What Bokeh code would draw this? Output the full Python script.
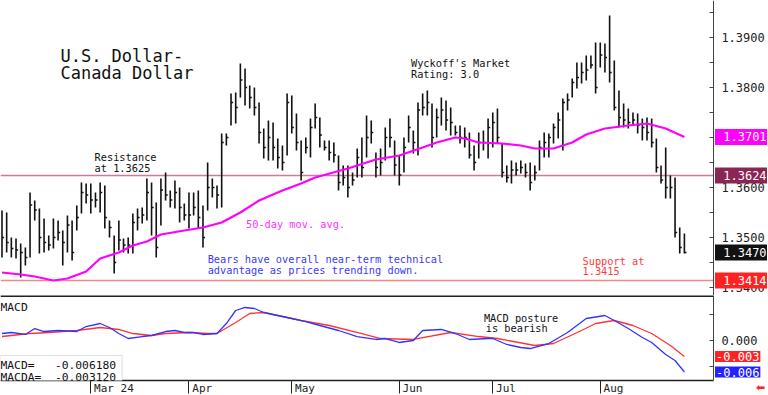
from bokeh.plotting import figure
from bokeh.models import (Range1d, FixedTicker, Label, BoxAnnotation,
                          PrintfTickFormatter, ColumnDataSource)
from bokeh.layouts import column
from bokeh.transform import dodge
from bokeh.embed import file_html
from bokeh.resources import INLINE

# ---------------- data ----------------
highs = [1.3554,1.3550,1.3500,1.3498,1.3488,1.3480,1.3590,1.3574,1.3558,1.3538,
         1.3504,1.3538,1.3534,1.3514,1.3544,1.3534,1.3564,1.3610,1.3608,1.3608,
         1.3590,1.3610,1.3604,1.3534,1.3504,1.3534,1.3498,1.3500,1.3548,1.3558,
         1.3560,1.3618,1.3610,1.3570,1.3618,1.3630,1.3594,1.3614,1.3600,1.3568,
         1.3590,1.3590,1.3594,1.3564,1.3650,1.3618,1.3604,1.3708,1.3708,1.3788,
         1.3790,1.3848,1.3838,1.3804,1.3800,1.3770,1.3718,1.3734,1.3730,1.3698,
         1.3684,1.3788,1.3784,1.3748,1.3694,1.3700,1.3738,1.3768,1.3740,1.3694,
         1.3694,1.3690,1.3664,1.3644,1.3644,1.3630,1.3678,1.3700,1.3744,1.3734,
         1.3670,1.3678,1.3720,1.3738,1.3694,1.3664,1.3700,1.3744,1.3714,1.3770,
         1.3788,1.3794,1.3768,1.3758,1.3780,1.3774,1.3760,1.3724,1.3724,1.3720,
         1.3710,1.3684,1.3710,1.3714,1.3738,1.3750,1.3758,1.3688,1.3644,1.3654,
         1.3650,1.3654,1.3648,1.3650,1.3644,1.3694,1.3710,1.3708,1.3728,1.3750,
         1.3778,1.3788,1.3818,1.3850,1.3850,1.3864,1.3864,1.3890,1.3890,1.3888,
         1.3944,1.3854,1.3794,1.3768,1.3758,1.3750,1.3748,1.3738,1.3740,1.3738,
         1.3698,1.3644,1.3680,1.3624,1.3620,1.3520,1.3508]
lows = [1.3460,1.3470,1.3460,1.3458,1.3420,1.3444,1.3460,1.3534,1.3468,1.3470,
        1.3474,1.3478,1.3494,1.3444,1.3470,1.3454,1.3514,1.3548,1.3568,1.3548,
        1.3560,1.3550,1.3518,1.3500,1.3428,1.3474,1.3470,1.3468,1.3468,1.3514,
        1.3528,1.3534,1.3504,1.3460,1.3524,1.3574,1.3560,1.3558,1.3530,1.3534,
        1.3518,1.3544,1.3518,1.3480,1.3554,1.3580,1.3558,1.3560,1.3684,1.3724,
        1.3728,1.3780,1.3764,1.3758,1.3744,1.3688,1.3658,1.3654,1.3654,1.3638,
        1.3634,1.3664,1.3708,1.3674,1.3614,1.3668,1.3660,1.3718,1.3680,1.3674,
        1.3654,1.3650,1.3594,1.3604,1.3580,1.3604,1.3620,1.3620,1.3660,1.3688,
        1.3620,1.3624,1.3654,1.3680,1.3624,1.3604,1.3630,1.3690,1.3668,1.3664,
        1.3744,1.3744,1.3680,1.3700,1.3724,1.3714,1.3704,1.3704,1.3688,1.3680,
        1.3658,1.3634,1.3658,1.3674,1.3658,1.3680,1.3688,1.3620,1.3610,1.3608,
        1.3624,1.3628,1.3620,1.3594,1.3614,1.3634,1.3660,1.3660,1.3688,1.3698,
        1.3674,1.3754,1.3780,1.3798,1.3808,1.3814,1.3838,1.3788,1.3840,1.3830,
        1.3810,1.3754,1.3720,1.3720,1.3718,1.3724,1.3708,1.3694,1.3694,1.3680,
        1.3630,1.3608,1.3578,1.3578,1.3500,1.3468,1.3468]
closes = [1.3500,1.3490,1.3478,1.3475,1.3470,1.3460,1.3565,1.3555,1.3500,1.3490,
          1.3485,1.3500,1.3510,1.3490,1.3525,1.3470,1.3540,1.3590,1.3585,1.3575,
          1.3575,1.3590,1.3540,1.3520,1.3450,1.3495,1.3485,1.3485,1.3530,1.3540,
          1.3545,1.3590,1.3560,1.3480,1.3595,1.3585,1.3575,1.3590,1.3560,1.3545,
          1.3545,1.3560,1.3540,1.3500,1.3600,1.3600,1.3585,1.3690,1.3700,1.3770,
          1.3760,1.3815,1.3800,1.3780,1.3760,1.3710,1.3680,1.3700,1.3680,1.3660,
          1.3650,1.3770,1.3720,1.3690,1.3630,1.3680,1.3720,1.3740,1.3705,1.3680,
          1.3670,1.3665,1.3610,1.3620,1.3600,1.3615,1.3660,1.3640,1.3700,1.3710,
          1.3640,1.3650,1.3700,1.3700,1.3645,1.3625,1.3680,1.3720,1.3690,1.3755,
          1.3760,1.3770,1.3700,1.3740,1.3755,1.3735,1.3730,1.3710,1.3700,1.3700,
          1.3665,1.3650,1.3690,1.3690,1.3720,1.3730,1.3700,1.3630,1.3620,1.3635,
          1.3635,1.3640,1.3630,1.3610,1.3630,1.3680,1.3690,1.3700,1.3720,1.3735,
          1.3770,1.3775,1.3810,1.3820,1.3830,1.3835,1.3845,1.3800,1.3865,1.3860,
          1.3830,1.3760,1.3740,1.3735,1.3730,1.3735,1.3725,1.3720,1.3710,1.3690,
          1.3640,1.3615,1.3600,1.3600,1.3510,1.3480,1.3470]

ma_idx = [0,4,7,11,14,18,21,25,28,31,34,39,43,47,51,55,60,64,67,74,80,85,90,93,
          97,99,102,107,111,114,118,120,122,125,129,134,138,142,146]
ma_vals = [1.3430,1.3426,1.3422,1.3414,1.3418,1.3432,1.3458,1.3470,1.3484,1.3492,
           1.3506,1.3514,1.3520,1.3530,1.3550,1.3574,1.3594,1.3608,1.3620,1.3638,
           1.3656,1.3664,1.3680,1.3690,1.3700,1.3698,1.3690,1.3688,1.3684,1.3678,
           1.3678,1.3684,1.3690,1.3706,1.3718,1.3724,1.3728,1.3718,1.3701]

macd_idx = [0,2,5,7,9,12,16,18,21,23,25,27,30,32,35,37,39,41,43,46,48,50,52,54,
            56,59,62,65,68,72,76,80,82,85,88,90,94,97,100,104,105,108,111,113,
            117,121,125,129,131,134,137,139,142,144,146]
macd_vals = [0.00137,0.00157,0.00118,0.00235,0.00176,0.00196,0.00176,0.00274,
             0.00333,0.00255,0.00137,0.00039,0.00078,0.00098,0.00176,0.00196,
             0.00157,0.00157,0.00118,0.00137,0.00333,0.00588,0.00647,0.00627,
             0.00549,0.00490,0.00431,0.00372,0.00294,0.00196,0.00078,0.00020,
             0.00039,-0.00039,0.00000,0.00196,0.00216,0.00137,0.00020,0.00039,
             0.00039,-0.00078,-0.00137,-0.00157,-0.00059,0.00157,0.00431,0.00490,
             0.00392,0.00235,0.00059,-0.00039,-0.00274,-0.00392,-0.00618]
sig_idx = [0,6,10,16,21,25,28,32,35,40,44,46,50,53,56,59,64,70,77,81,88,96,102,
           106,114,118,124,127,131,135,139,143,146]
sig_vals = [0.00078,0.00137,0.00157,0.00196,0.00255,0.00216,0.00137,0.00098,
            0.00137,0.00157,0.00137,0.00137,0.00353,0.00529,0.00549,0.00490,
            0.00392,0.00294,0.00137,0.00039,0.00020,0.00157,0.00078,0.00039,
            -0.00098,-0.00059,0.00196,0.00333,0.00392,0.00294,0.00137,-0.00098,
            -0.00312]

month_ticks = [19, 40, 62, 85, 105, 128]
month_labels = ["Mar 24", "Apr", "May", "Jun", "Jul", "Aug"]
price_ticks = [1.34, 1.35, 1.36, 1.37, 1.38, 1.39]
price_minor = [1.335, 1.345, 1.355, 1.365, 1.375, 1.385, 1.395]
resistance_level = 1.3624
support_level = 1.3414
ma_last = 1.3701
macd_last = -0.006180
macda_last = -0.003120

# ---------------- styling ----------------
FONT = "DejaVu Sans Mono"
X_START = -0.32
X_END = 152.2          # where the price axis line sits
xr = Range1d(X_START, 163.78)
W = 767

P_BOT, P_TOP = 1.3384, 1.3974
p = figure(frame_width=W, frame_height=295, x_range=xr,
           y_range=Range1d(P_BOT, P_TOP), y_axis_location="right",
           x_axis_location=None, output_backend="svg", toolbar_location=None,
           min_border_left=0, min_border_top=0, min_border_bottom=0,
           min_border_right=0)
p.outline_line_color = None
p.grid.visible = False
p.background_fill_color = "white"


def style_yaxis(ax, ticks, minor, fmt):
    ax.fixed_location = X_END
    ax.ticker = FixedTicker(ticks=ticks, minor_ticks=minor)
    ax.formatter = PrintfTickFormatter(format=fmt)
    ax.major_label_text_font = FONT
    ax.major_label_text_font_size = "12px"
    ax.major_label_text_color = "#222222"
    ax.major_tick_in = 4
    ax.major_tick_out = 0
    ax.minor_tick_in = 4
    ax.minor_tick_out = 0
    ax.major_label_standoff = 8
    ax.axis_line_color = "#444444"
    ax.major_tick_line_color = "#444444"
    ax.minor_tick_line_color = "#444444"


style_yaxis(p.yaxis[0], price_ticks, price_minor, "%.4f")

# horizontal resistance / support lines ending at the axis
p.segment(x0=[X_START, X_START], y0=[resistance_level, support_level],
          x1=[X_END, X_END], y1=[resistance_level, support_level],
          line_color=["#cc7a9e", "#f08a8a"], line_width=1.5)

src = ColumnDataSource(dict(x=list(range(len(highs))), h=highs, l=lows, c=closes))
p.segment(x0="x", y0="l", x1="x", y1="h", source=src, line_color="#111111",
          line_width=1.6)
p.segment(x0="x", y0="c", x1=dodge("x", 0.45), y1="c", source=src,
          line_color="#111111", line_width=1.4)
p.line(ma_idx, ma_vals, line_color="#ff00ff", line_width=2.2)


def txt(fig, x, y, s, color="#111111", size="10.3px", font=FONT):
    fig.add_layout(Label(x=x, y=y, text=s, text_color=color, text_font=font,
                         text_font_size=size, text_baseline="alphabetic",
                         text_align="left"))


txt(p, 12.5, 1.3864, "U.S. Dollar-", size="17px")
txt(p, 12.5, 1.3829, "Canada Dollar", size="17px")
txt(p, 87.5, 1.3849, "Wyckoff's Market")
txt(p, 87.5, 1.3827, "Rating: 3.0")
txt(p, 19.8, 1.3661, "Resistance")
txt(p, 19.8, 1.3639, "at 1.3625")
txt(p, 52.2, 1.3527, "50-day mov. avg.", color="#ff33ff")
txt(p, 44.0, 1.3457, "Bears have overall near-term technical", color="#3a3aff")
txt(p, 44.0, 1.3436, "advantage as prices trending down.", color="#3a3aff")
txt(p, 124.2, 1.3454, "Support at", color="#ff3a3a")
txt(p, 124.2, 1.3434, "1.3415", color="#ff3a3a")


def tag(fig, y, s, bg, lead="\u00a0"):
    fig.add_layout(Label(x=X_END + 0.35, y=y, text=lead + s,
                         text_color="white", text_font=FONT,
                         text_font_size="12px", text_baseline="middle",
                         text_align="left", background_fill_color=bg,
                         background_fill_alpha=1.0, padding=1))


tag(p, ma_last, f"{ma_last:.4f}", "#ff00ff")
tag(p, resistance_level, f"{resistance_level:.4f}", "#8a2554")
tag(p, closes[-1], f"{closes[-1]:.4f}", "#111111")
tag(p, support_level, f"{support_level:.4f}", "#ff2222")

# ---------------- MACD panel ----------------
M_TOP = 0.00882
M_BOT = -0.00784
M_LOW = -0.01078       # room under the panel for the date labels
m = figure(frame_width=W, frame_height=100, x_range=xr,
           y_range=Range1d(M_LOW, M_TOP), y_axis_location="right",
           x_axis_location="below", output_backend="svg",
           toolbar_location=None, min_border_left=0, min_border_top=0,
           min_border_right=0, min_border_bottom=0)
m.outline_line_color = None
m.grid.visible = False

xa = m.xaxis[0]
xa.fixed_location = M_BOT
xa.bounds = (X_START, X_END)
xa.ticker = FixedTicker(ticks=month_ticks)
xa.major_label_overrides = {t: "\u00a0" * (len(s) + 1) + s
                            for t, s in zip(month_ticks, month_labels)}
xa.major_label_text_font = FONT
xa.major_label_text_font_size = "11px"
xa.major_label_text_color = "#222222"
xa.major_tick_out = 13
xa.major_tick_in = 0
xa.major_label_standoff = -12
xa.axis_line_color = "#222222"
xa.axis_line_width = 1.5
xa.major_tick_line_color = "#222222"
xa.minor_tick_line_color = None

style_yaxis(m.yaxis[0], [0.0], [-0.005, 0.005], "%.3f")
m.yaxis[0].bounds = (M_BOT, M_TOP)

# separator line at the top of the MACD panel
m.segment(x0=[X_START], y0=[M_TOP], x1=[X_END], y1=[M_TOP],
          line_color="#222222", line_width=3)
m.line(sig_idx, sig_vals, line_color="#ff3333", line_width=1.3)
m.line(macd_idx, macd_vals, line_color="#3333ff", line_width=1.3)

m.add_layout(BoxAnnotation(left=X_START, right=25.7, top=-0.00294, bottom=M_BOT,
                           fill_color="white", fill_alpha=1.0,
                           line_color="#999999", line_width=1))
txt(m, X_START, 0.00641, "MACD", size="11.3px")
txt(m, X_START, -0.0049, "MACD=\u00a0\u00a0\u00a0" + f"{macd_last:.6f}", size="11.3px")
txt(m, X_START, -0.00719, "MACDA=\u00a0\u00a0" + f"{macda_last:.6f}", size="11.3px")
txt(m, 103.1, 0.00445, "MACD posture")
txt(m, 103.5, 0.00241, "is bearish")

tag(m, macda_last, f"{macda_last:.3f}", "#ff2222", lead="")
tag(m, macd_last, f"{macd_last:.3f}", "#2222ff", lead="")

m.add_layout(Label(x=161.3, y=-0.0093, text="\u2b05", text_color="#ff2222",
                   text_font="DejaVu Sans", text_font_size="11px",
                   text_baseline="middle", text_align="left"))

layout = column(p, m, spacing=0)
open("out.html", "w").write(file_html(layout, INLINE))
